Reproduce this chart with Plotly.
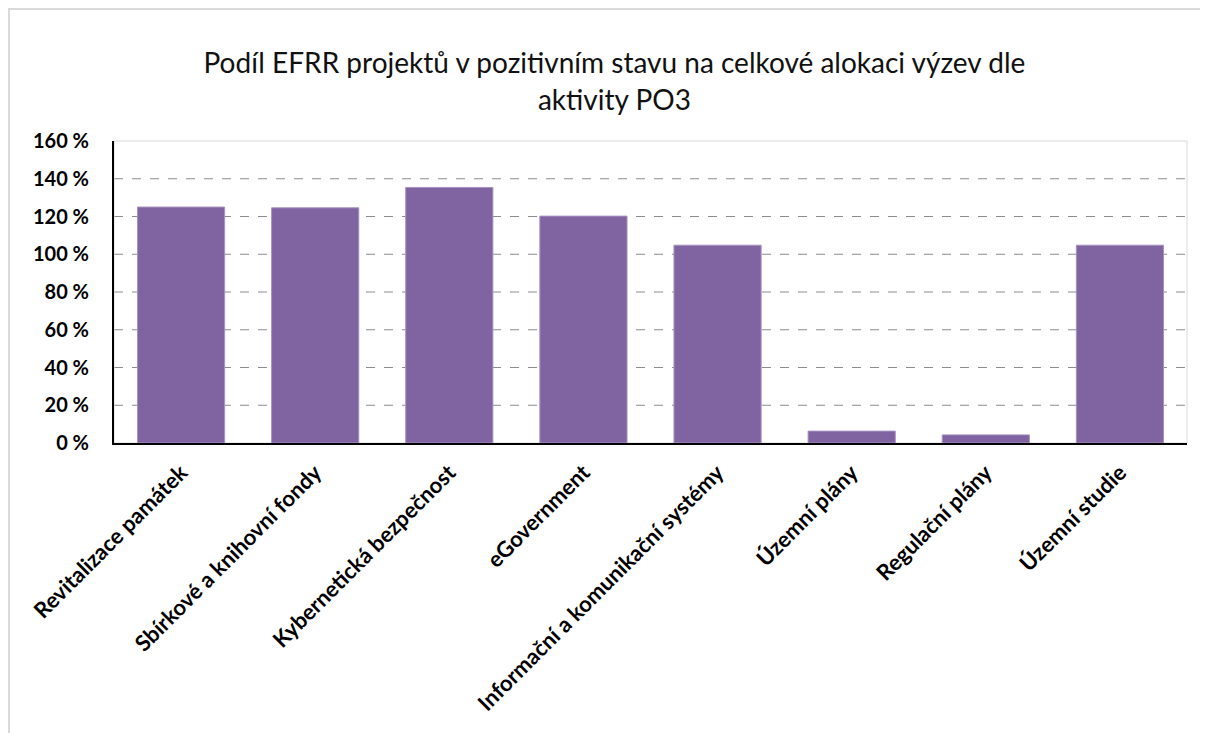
import plotly.graph_objects as go

categories = ["Revitalizace památek", "Sbírkové a knihovní fondy", "Kybernetická bezpečnost",
              "eGovernment", "Informační a komunikační systémy", "Územní plány",
              "Regulační plány", "Územní studie"]
values = [125.0, 124.6, 135.4, 120.2, 104.8, 6.3, 4.3, 104.8]
y_ticks = [0, 20, 40, 60, 80, 100, 120, 140, 160]
y_ticktext = [f"{v} %" for v in y_ticks]
grid_vals = [20, 40, 60, 80, 100, 120, 140]

FONT = "Lato"

fig = go.Figure()
fig.add_trace(go.Bar(
    x=categories, y=values,
    marker=dict(color="#8064A2", line=dict(color="#A692C2", width=1)),
    hoverinfo="x+y",
))

shapes = []
for g in grid_vals:
    shapes.append(dict(type="line", xref="paper", yref="y", x0=0, x1=1, y0=g, y1=g,
                       line=dict(color="#8c8c8c", width=1, dash="dash"), layer="below"))
shapes.append(dict(type="rect", xref="paper", yref="paper", x0=0, x1=1, y0=0, y1=1,
                   line=dict(color="#d9d9d9", width=1), layer="below"))
shapes.append(dict(type="rect", xref="paper", yref="paper", x0=-0.0979, x1=1.2, y0=-1.2, y1=1.437,
                   line=dict(color="#d9d9d9", width=2), layer="below"))

fig.update_layout(
    width=1208, height=733,
    margin=dict(l=106, r=29, t=133, b=298),
    paper_bgcolor="white", plot_bgcolor="white",
    bargap=0.35,
    showlegend=False,
    shapes=shapes,
    title=dict(text="Podíl EFRR projektů v pozitivním stavu na celkové alokaci výzev dle<br>aktivity PO3",
               x=0.502, xanchor="center", xref="container", y=0.911, yanchor="top",
               font=dict(family=FONT, size=28, color="#111111")),
    font=dict(family=FONT),
    xaxis=dict(
        tickangle=-45,
        tickfont=dict(family=FONT, size=22, color="black", weight="bold"),
        showline=True, linecolor="black", linewidth=2,
        showgrid=False, ticks="", ticklabelstandoff=6,
    ),
    yaxis=dict(
        range=[0, 160],
        tickvals=y_ticks, ticktext=y_ticktext,
        tickfont=dict(family=FONT, size=20, color="black", weight="bold"),
        showline=True, linecolor="black", linewidth=2,
        showgrid=False, zeroline=False, ticks="", ticklabelstandoff=19,
    ),
)

fig.write_html("out.html")
